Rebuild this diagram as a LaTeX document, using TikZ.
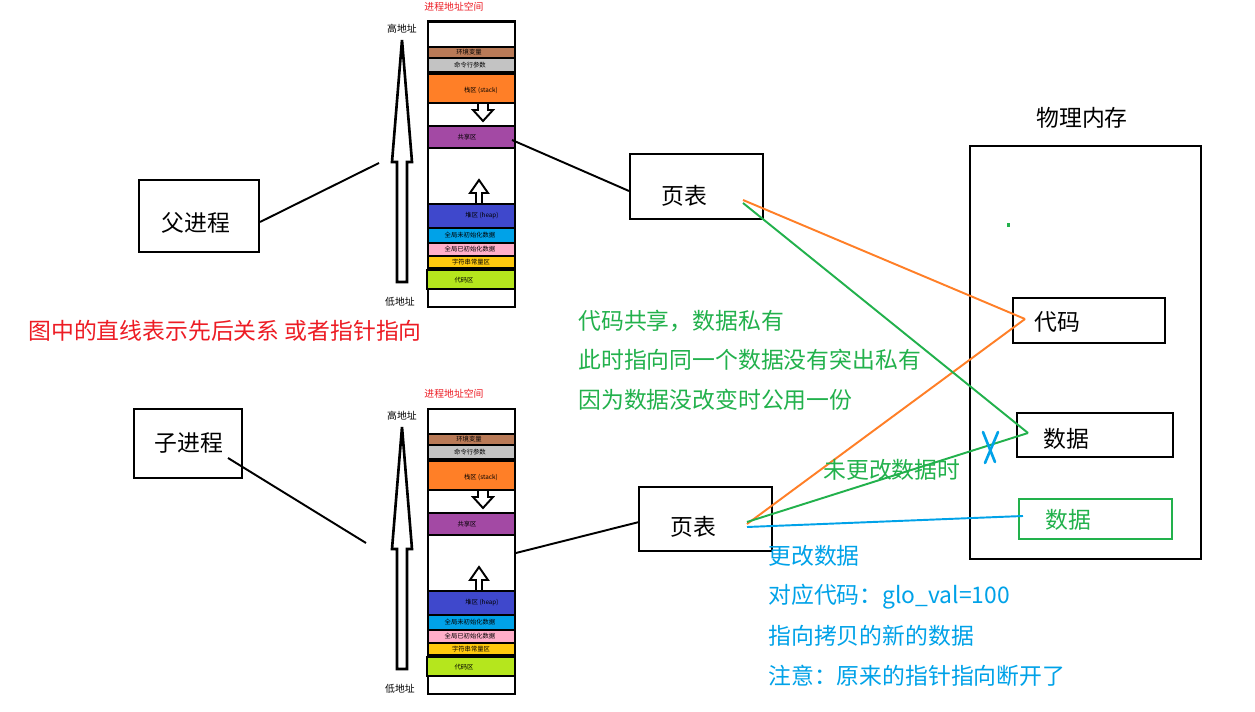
\documentclass[tikz,border=0pt]{standalone}
\usepackage{fontspec}
\newfontfamily\cjk{Noto Sans CJK SC}
\usetikzlibrary{fit}
\definecolor{cred}{HTML}{ED1C24}
\definecolor{cgreen}{HTML}{22B14C}
\definecolor{cblue}{HTML}{00A2E8}
\definecolor{corange}{HTML}{FF7F27}
\definecolor{rbrown}{HTML}{B97A57}
\definecolor{rgray}{HTML}{C3C3C3}
\definecolor{rpurple}{HTML}{A349A4}
\definecolor{rblue}{HTML}{3F48CC}
\definecolor{rpink}{HTML}{FFAEC9}
\definecolor{ryellow}{HTML}{FFC90E}
\definecolor{rlime}{HTML}{B5E61D}
\tikzset{
  box/.style={draw, line width=1.2pt, inner sep=0pt},
  maintext/.style={font=\cjk\fontsize{13}{15}\selectfont, inner sep=0pt},
  tinytext/.style={font=\cjk\fontsize{3.6}{4}\selectfont, inner sep=0pt},
  smalltext/.style={font=\cjk\fontsize{5.6}{6}\selectfont, inner sep=0pt},
  rowbox/.style={draw, line width=1.2pt},
  link/.style={line width=1.1pt},
  bigarrow/.style={draw, line width=1.5pt, fill=white, line join=miter},
  smallarrow/.style={draw, line width=1.1pt, fill=white, line join=miter}
}
\newcommand\memcolumn[2]{%
\begin{scope}[shift={(0,#1)}]
  \node[smalltext, text=cred] (#2title) at (454,7) {进程地址空间};
  \node[smalltext] (#2high) at (402,29) {高地址};
  \node[smalltext] (#2low) at (400,302) {低地址};
  \path[bigarrow] (402,40) -- (412,162) -- (407,162) -- (407,282) -- (397,282) -- (397,162) -- (392,162) -- cycle;
  \node[draw, line width=1.7pt, fit={(428,22) (515,307)}, inner sep=0pt] (#2col) {};
  \path[rowbox, fill=rbrown] (428,47) rectangle (515,58);
  \node[tinytext] (#2env) at (469,52.5) {环境变量};
  \path[rowbox, fill=rgray] (428,58) rectangle (515,72);
  \node[tinytext] (#2arg) at (470,65) {命令行参数};
  \path[rowbox, fill=corange] (428,74) rectangle (515,103);
  \node[tinytext] (#2stack) at (481,90) {栈区 (stack)};
  \path[smallarrow] (478,103) -- (488,103) -- (488,110) -- (493,110) -- (483,121) -- (473,110) -- (478,110) -- cycle;
  \path[rowbox, fill=rpurple] (428,126) rectangle (515,148);
  \node[tinytext] (#2share) at (467,137) {共享区};
  \path[smallarrow] (479,180) -- (488,193) -- (482,193) -- (482,204) -- (476,204) -- (476,193) -- (470,193) -- cycle;
  \path[rowbox, fill=rblue] (428,204) rectangle (515,228);
  \node[tinytext] (#2heap) at (482,216) {堆区 (heap)};
  \path[rowbox, fill=cblue] (428,228) rectangle (515,243);
  \node[tinytext] (#2bss) at (470,235.5) {全局未初始化数据};
  \path[rowbox, fill=rpink] (428,243) rectangle (515,256);
  \node[tinytext] (#2data) at (470,249.5) {全局已初始化数据};
  \path[rowbox, fill=ryellow] (428,256) rectangle (515,268);
  \node[tinytext] (#2rodata) at (471,262) {字符串常量区};
  \path[rowbox, fill=rlime, line width=1.6pt] (427,270) rectangle (515,289);
  \node[tinytext] (#2text) at (464,280) {代码区};
\end{scope}}
\begin{document}
\begin{tikzpicture}[x=0.02cm, y=-0.02cm]
\useasboundingbox (0,0) rectangle (1255,712);
\fill[white] (0,0) rectangle (1255,712);

\memcolumn{0}{a}
\memcolumn{387}{b}

% process boxes
\node[box, fit={(139,180) (259,252)}] (parent) {};
\node[maintext] (parenttext) at (196,223) {父进程};
\node[box, fit={(134,409) (242,478)}] (child) {};
\node[maintext] (childtext) at (189,443) {子进程};

% page tables
\node[box, fit={(630,154) (763,219)}] (ptabA) {};
\node[maintext] (ptabAtext) at (684,196) {页表};
\node[box, fit={(639,487) (772,551)}] (ptabB) {};
\node[maintext] (ptabBtext) at (693,527) {页表};

% physical memory
\node[maintext] (phystitle) at (1082,118) {物理内存};
\node[box, fit={(970,146) (1201,559)}] (phys) {};
\node[box, fit={(1013,298) (1165,343)}] (code) {};
\node[maintext] (codetext) at (1057,322) {代码};
\node[box, fit={(1017,413) (1173,457)}] (data) {};
\node[maintext] (datatext) at (1066,439) {数据};
\node[box, draw=cgreen, fit={(1019,499) (1172,539)}] (newdata) {};
\node[maintext, text=cgreen] (newdatatext) at (1068,520) {数据};
\fill[cgreen] (1007,223) rectangle (1010,227);

% connector endpoints
\coordinate (pA) at (259,222);
\coordinate (aArrow) at (379,163);
\coordinate (ptA) at (629,191);
\coordinate (aShare) at (512,140);
\coordinate (pB) at (228,458);
\coordinate (bArrow) at (366,543);
\coordinate (ptB) at (639,522);
\coordinate (bCol) at (516,553);
\coordinate (ptAo) at (743,200);
\coordinate (ptAg) at (743,203);
\coordinate (ptBo) at (747,524);
\coordinate (ptBg) at (747,522);
\coordinate (ptBb) at (747,527);
\coordinate (codeIn) at (1025,319);
\coordinate (dataIn) at (1028,433);
\coordinate (newIn) at (1023,516);

\draw[link] (parent.east |- pA) -- (aArrow);
\draw[link] (ptA) -- (aShare);
\draw[link] (pB) -- (bArrow);
\draw[link] (ptB) -- (bCol);
\draw[link, corange] (ptAo) -- (codeIn);
\draw[link, corange] (ptBo) -- (codeIn);
\draw[link, cgreen] (ptAg) -- (dataIn);
\draw[link, cgreen] (ptBg) -- (dataIn);
\draw[link, cblue] (ptBb) -- (newIn);

% broken pointer mark
\draw[cblue, line width=1.5pt, line cap=round] (983,432) -- (995,462);
\draw[cblue, line width=1.5pt, line cap=round] (998,432) -- (985,463);

% texts
\node[maintext, text=cred, anchor=west] (note) at (28,331) {图中的直线表示先后关系 或者指针指向};
\node[maintext, text=cgreen, anchor=west] (g1) at (578,321) {代码共享，数据私有};
\node[maintext, text=cgreen, anchor=west] (g2) at (578,360) {此时指向同一个数据没有突出私有};
\node[maintext, text=cgreen, anchor=west] (g3) at (578,400) {因为数据没改变时公用一份};
\node[maintext, text=cgreen, anchor=west] (g4) at (823,470) {未更改数据时};
\node[maintext, text=cblue, anchor=west] (b1) at (768,556) {更改数据};
\node[maintext, text=cblue, anchor=west] (b2) at (768,597) {对应代码：glo\_val=100};
\node[maintext, text=cblue, anchor=west] (b3) at (768,636) {指向拷贝的新的数据};
\node[maintext, text=cblue, anchor=west] (b4) at (768,676) {注意：原来的指针指向断开了};
\end{tikzpicture}
\end{document}
